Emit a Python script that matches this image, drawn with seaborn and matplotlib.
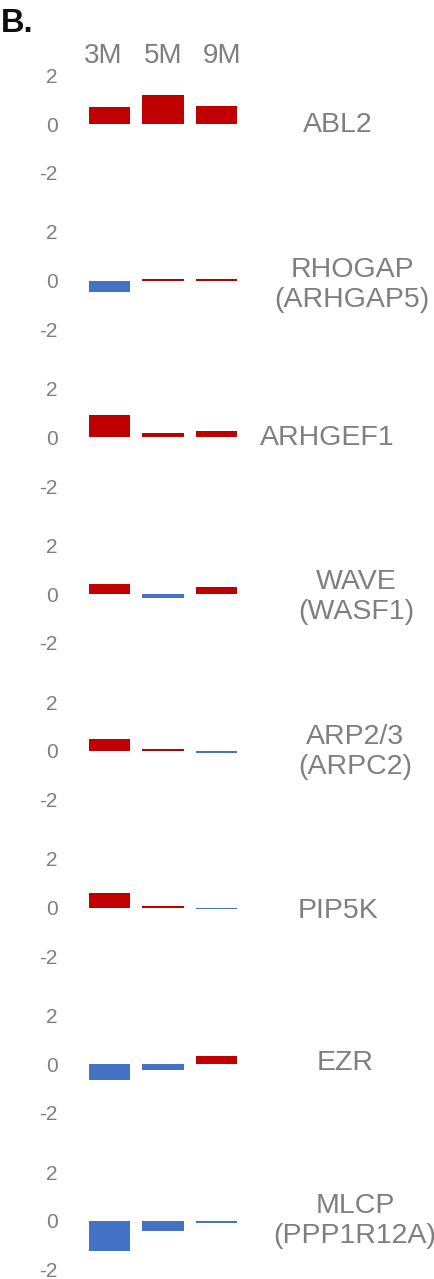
import numpy as np
import pandas as pd
import matplotlib
matplotlib.use("Agg")
import matplotlib.pyplot as plt
import matplotlib.transforms as mtransforms
import seaborn as sns

# log2 fold change per time point for each gene
timepoints = ["3M", "5M", "9M"]
genes = ["ABL2", "RHOGAP\n(ARHGAP5)", "ARHGEF1", "WAVE\n(WASF1)",
         "ARP2/3\n(ARPC2)", "PIP5K", "EZR", "MLCP\n(PPP1R12A)"]
abl2 = [0.68, 1.17, 0.75]
rhogap = [-0.48, 0.06, 0.06]
arhgef1 = [0.91, 0.18, 0.26]
wave = [0.41, -0.16, 0.31]
arp23 = [0.50, 0.06, -0.08]
pip5k = [0.60, 0.07, -0.07]
ezr = [-0.65, -0.23, 0.33]
mlcp = [-1.25, -0.42, -0.08]
values = [abl2, rhogap, arhgef1, wave, arp23, pip5k, ezr, mlcp]
yticks = [-2, 0, 2]
ytick_labels = ["-2", "0", "2"]

sns.set_theme(style="white")
plt.rcParams["font.family"] = ["Liberation Sans", "DejaVu Sans"]

RED = "#C00000"
BLUE = "#4472C4"
GREY = "#7F7F7F"

W, H = 435, 1279
fig = plt.figure(figsize=(W / 100, H / 100), dpi=100)

# panel geometry in pixels
px_per_unit = 24.4
first_zero = 124.0
panel_step = 156.7
half_range = 2.4
x0_px = 109.5
bar_step = 53.5
xlim = (-0.9, 2.5)
ax_left = x0_px + xlim[0] * bar_step
ax_w = (xlim[1] - xlim[0]) * bar_step
ax_h = 2 * half_range * px_per_unit

# gene label placement (pixel centre x, vertical nudge)
label_x = [338, 352, 327, 356, 355, 338, 345, 355]
label_dy = [1, 4, 1, 3, 1, 3, -1, 0]

axes = []
for i, (gene, vals) in enumerate(zip(genes, values)):
    zero = first_zero + panel_step * i
    bottom = H - (zero + half_range * px_per_unit)
    ax = fig.add_axes([ax_left / W, bottom / H, ax_w / W, ax_h / H])
    df = pd.DataFrame({
        "time": timepoints,
        "log2fc": vals,
        "direction": ["up" if v >= 0 else "down" for v in vals],
    })
    sns.barplot(data=df, x="time", y="log2fc", hue="direction",
                order=timepoints, hue_order=["up", "down"],
                palette={"up": RED, "down": BLUE}, saturation=1, dodge=False,
                width=0.78, linewidth=0, errorbar=None, legend=False, ax=ax)
    ax.set_xlim(*xlim)
    ax.set_ylim(-half_range, half_range)
    ax.set_yticks(yticks)
    ax.set_yticklabels(ytick_labels)
    ax.tick_params(axis="y", length=0, pad=2.5, labelsize=15, labelcolor=GREY)
    ax.set_xticks([])
    ax.set_xlabel("")
    ax.set_ylabel("")
    sns.despine(ax=ax, left=True, bottom=True)
    ax.patch.set_visible(False)
    fig.text(label_x[i] / W, 1 - (zero + label_dy[i]) / H, gene,
             ha="center", va="center", fontsize=20.5, color=GREY,
             linespacing=1.2)
    axes.append(ax)

# time point headers above the first panel
trans = mtransforms.blended_transform_factory(axes[0].transData, fig.transFigure)
for j, tp in enumerate(timepoints):
    axes[0].text(1 + (j - 1) * 1.11, 1 - 56 / H, tp, transform=trans,
                 ha="center", va="center", fontsize=20, color=GREY)

fig.text(0.5 / W, 1 - 24 / H, "B.", ha="left", va="center",
         fontsize=23.5, fontweight="bold", color="#111111")

fig.savefig("out.png", dpi=100)
